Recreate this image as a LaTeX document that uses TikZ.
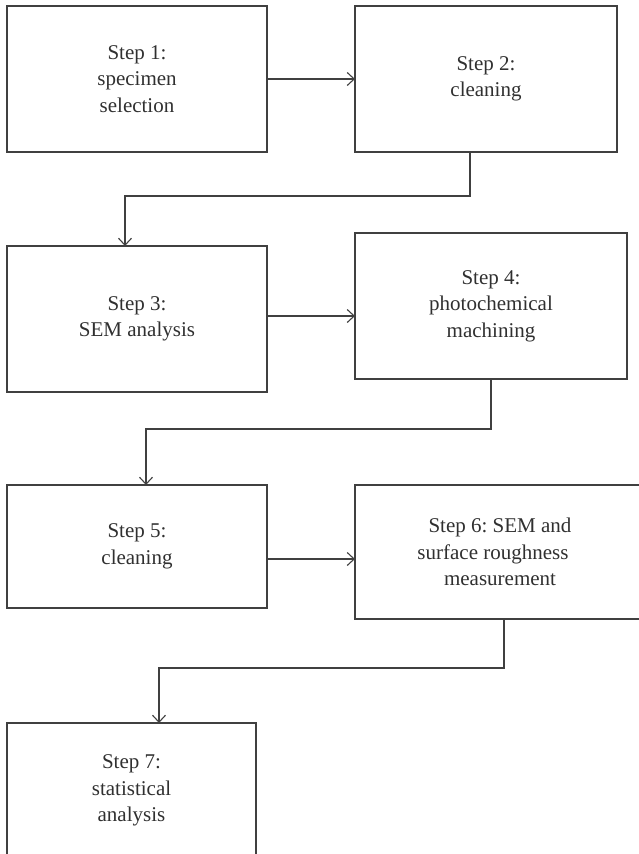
\documentclass[tikz,border=0pt]{standalone}
\usepackage{fontspec}
\setmainfont{Liberation Serif}
\frenchspacing
\usetikzlibrary{arrows.meta}
\definecolor{ink}{HTML}{404040}
\definecolor{txt}{HTML}{303030}
\begin{document}
\begin{tikzpicture}[x=1pt,y=-1pt,
  box/.style={draw=ink, line width=1.2pt, rectangle, align=center, text=txt, inner sep=0pt, outer sep=0pt,
    font=\fontsize{21}{26.5}\selectfont},
  arr/.style={draw=ink, line width=1.2pt, -{Straight Barb[length=7pt,width=13pt,line width=1.1pt]}}]
\useasboundingbox (0,0) rectangle (638,854);
% boxes
\node[box, minimum width=260pt, minimum height=146pt] (b1) at (137,79) {Step 1:\\specimen\\selection};
\node[box, minimum width=262pt, minimum height=146pt] (b2) at (486,79) {Step 2:\\cleaning};
\node[box, minimum width=260pt, minimum height=146pt] (b3) at (137,319) {Step 3:\\SEM analysis};
\node[box, minimum width=272pt, minimum height=146pt] (b4) at (491,306) {Step 4:\\photochemical\\machining};
\node[box, minimum width=260pt, minimum height=123pt] (b5) at (137,546.5) {Step 5:\\cleaning};
\node[box, minimum width=290pt, minimum height=134pt] (b6) at (500,552) {Step 6: SEM and\\surface roughness\rule{14pt}{0pt}\\measurement};
\node[box, minimum width=249pt, minimum height=135pt] (b7) at (131.5,790.5) {Step 7:\\statistical\\analysis};
% bend points
\coordinate (k23) at (125,196);
\coordinate (k45) at (146,429);
\coordinate (k67) at (159,668);
% connectors
\draw[arr] (b1.east) -- (b2.west);
\draw[arr] ([xshift=-16pt]b2.south) |- (k23) -- (b3.north -| k23);
\draw[arr] ([yshift=3pt]b3.east) -- ([yshift=3pt]b3.east -| b4.west);
\draw[arr] (b4.south) |- (k45) -- (b5.north -| k45);
\draw[arr] ([yshift=-12.5pt]b5.east) -- ([yshift=-12.5pt]b5.east -| b6.west);
\draw[arr] ([xshift=4pt]b6.south) |- (k67) -- (b7.north -| k67);
\end{tikzpicture}
\end{document}
